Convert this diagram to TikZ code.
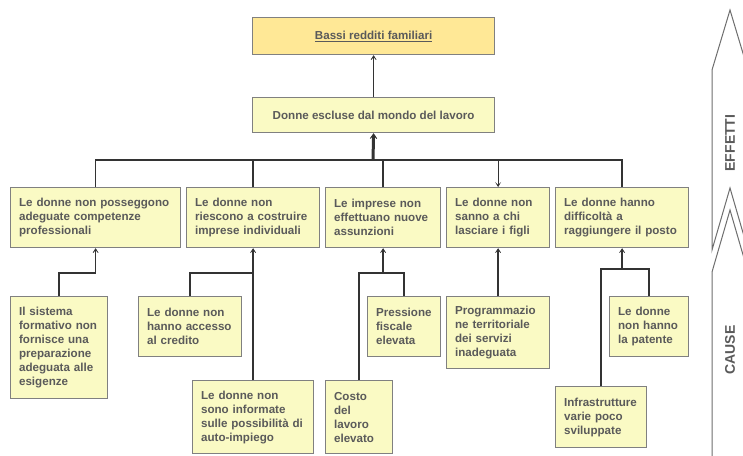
\documentclass[tikz,border=0pt]{standalone}
\usepackage{fontspec}
\setmainfont{Liberation Sans}
\usetikzlibrary{arrows.meta}

\definecolor{boxfill}{RGB}{250,250,196}
\definecolor{topfill}{RGB}{255,232,150}
\definecolor{boxline}{RGB}{128,128,128}
\definecolor{textgray}{RGB}{90,90,90}
\definecolor{wiregray}{RGB}{51,51,51}
\definecolor{sidegray}{RGB}{110,110,110}

\tikzset{
  box/.style={draw=boxline, fill=boxfill, line width=1.2pt, text=textgray,
    font=\bfseries\fontsize{11.6}{14}\selectfont, align=left,
    anchor=north west, inner xsep=8.5pt, inner ysep=0pt},
  headbox/.style={box, align=center, minimum width=242pt},
  wire/.style={draw=wiregray, line width=1.5pt},
  link/.style={wire, -{Stealth[length=7pt,width=9pt,inset=5pt]}},
  biglink/.style={draw=wiregray, line width=3pt, -{Stealth[length=8pt,width=11pt,inset=5.5pt]}},
  downlink/.style={draw=wiregray, line width=1.2pt, -{Stealth[length=5pt,width=6pt,inset=3pt]}},
  sidearrow/.style={draw=sidegray, line width=1pt, fill=white},
  sidelabel/.style={text=textgray, font=\bfseries\fontsize{14}{16}\selectfont, rotate=90}
}

\begin{document}
\begin{tikzpicture}[x=1pt,y=-1pt]
\useasboundingbox (0,0) rectangle (743,455);

% effect chain
\node[headbox, fill=topfill, minimum height=37pt] (top) at (252,17) {\underline{Bassi redditi familiari}};
\node[headbox, minimum height=35pt] (mid) at (252,97) {Donne escluse dal mondo del lavoro};

% first level causes
\node[box, text width=153pt, minimum height=60pt] (k1) at (10,187)
  {Le donne non posseggono\\adeguate competenze\\professionali};
\node[box, text width=116pt, minimum height=60pt] (k2) at (186,187)
  {Le donne non\\riescono a costruire\\imprese individuali};
\node[box, text width=98pt, minimum height=60pt] (k3) at (325,187)
  {Le imprese non\\effettuano nuove\\assunzioni};
\node[box, text width=86pt, minimum height=60pt] (k4) at (446,187)
  {Le donne non\\sanno a chi\\lasciare i figli};
\node[box, text width=116pt, minimum height=60pt] (k5) at (555,187)
  {Le donne hanno\\difficoltà a\\raggiungere il posto};

% second level causes
\node[box, text width=80pt, minimum height=102pt] (c11) at (10,296)
  {Il sistema\\formativo non\\fornisce una\\preparazione\\adeguata alle\\esigenze};
\node[box, text width=86pt, minimum height=60pt] (c21) at (138,296)
  {Le donne non\\hanno accesso\\al credito};
\node[box, text width=104pt, minimum height=73pt] (c22) at (192,380)
  {Le donne non\\sono informate\\sulle possibilità di\\auto-impiego};
\node[box, text width=50pt, minimum height=73pt] (c31) at (325,380)
  {Costo\\del\\lavoro\\elevato};
\node[box, text width=56pt, minimum height=60pt] (c32) at (367,296)
  {Pressione\\fiscale\\elevata};
\node[box, text width=86pt, minimum height=72pt] (c41) at (446,296)
  {Programmazio\\ne territoriale\\dei servizi\\inadeguata};
\node[box, text width=62pt, minimum height=60pt] (c51) at (609,296)
  {Le donne\\non hanno\\la patente};
\node[box, text width=74pt, minimum height=61pt] (c52) at (555,386)
  {Infrastrutture\\varie poco\\sviluppate};

% bus to the effect
\coordinate (bus) at (373,160);
\draw[wire] (k1.north) |- (k5.north |- bus) -- (k5.north);
\draw[wire] (k2.north) -- (k2.north |- bus);
\draw[wire] (k3.north) -- (k3.north |- bus);
\draw[downlink] (k4.north |- bus) -- (k4.north);
\draw[biglink] (bus) -- (mid.south);
\draw[link] (mid.north) -- (top.south);

% joints under the first level
\path (k1.south) ++(0,25) coordinate (e1);
\path (k2.south) ++(0,25) coordinate (e2);
\path (k3.south) ++(0,25) coordinate (e3);
\path (k5.south) ++(0,21) coordinate (e5);

\draw[link] (c11.north) |- (e1) -- (k1.south);
\draw[link] (c21.north) |- (e2) -- (k2.south);
\draw[wire] (c22.north) -- (e2);
\draw[wire] (c31.north) |- (e3);
\draw[wire] (c32.north) |- (e3);
\draw[link] (e3) -- (k3.south);
\draw[link] (c41.north) -- (k4.south);
\draw[wire] (c51.north) |- (e5);
\draw[wire] (c52.north) |- (e5);
\draw[link] (e5) -- (k5.south);

% side arrows
\begin{scope}
\clip (0,0) rectangle (743,455);
\draw[sidearrow] (730,10) -- (712,70) -- (712,250) -- (730,188) -- (748,250) -- (748,70) -- cycle;
\draw[sidearrow] (730,210) -- (712,272) -- (712,470) -- (748,470) -- (748,272) -- cycle;
\end{scope}
\node[sidelabel] (effetti) at (730,143) {EFFETTI};
\node[sidelabel] (cause) at (730,350) {CAUSE};
\end{tikzpicture}
\end{document}
